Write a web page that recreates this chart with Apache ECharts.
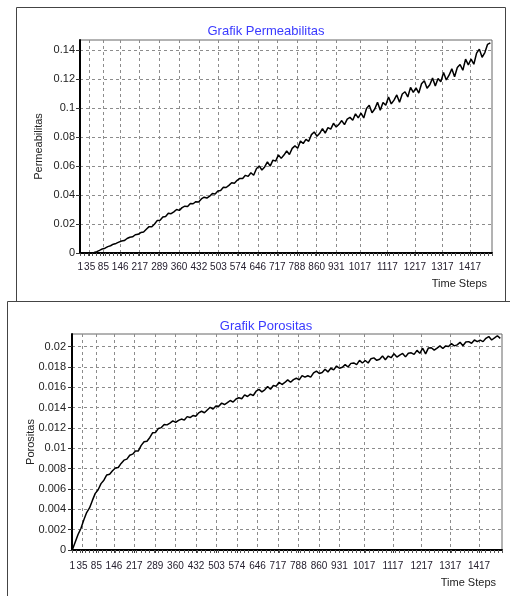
<!DOCTYPE html>
<html>
<head>
<meta charset="utf-8">
<title>Grafik Permeabilitas / Porositas</title>
<script src="https://cdn.jsdelivr.net/npm/echarts@6/dist/echarts.min.js"></script>
<style>
  html, body { margin: 0; padding: 0; background: #fff; }
  #chart { width: 510px; height: 596px; }
</style>
</head>
<body>
<div id="chart"></div>
<script>
// tick labels on the time axis (same for both charts)
var timeTicks = [1, 35, 85, 146, 217, 289, 360, 432, 503, 574, 646, 717, 788, 860, 931, 1017, 1117, 1217, 1317, 1417];
var permTicks = [0, 0.02, 0.04, 0.06, 0.08, 0.1, 0.12, 0.14];
var poroTicks = [0, 0.002, 0.004, 0.006, 0.008, 0.01, 0.012, 0.014, 0.016, 0.018, 0.02];

// sampled every 10 time steps, starting at step 1
var steps = [];
for (var s = 1; s <= 1491; s += 10) steps.push(s);

var permValues = [
    0, 0, 0, 0, 0,
    0.0004, 0.0009, 0.0018, 0.0028, 0.0033,
    0.0044, 0.0050, 0.0061, 0.0066, 0.0075,
    0.0083, 0.0086, 0.0100, 0.0109, 0.0112,
    0.0126, 0.0129, 0.0141, 0.0145, 0.0164,
    0.0182, 0.0181, 0.0200, 0.0225, 0.0226,
    0.0248, 0.0252, 0.0274, 0.0271, 0.0284,
    0.0300, 0.0294, 0.0313, 0.0323, 0.0321,
    0.0341, 0.0340, 0.0354, 0.0352, 0.0373,
    0.0385, 0.0379, 0.0392, 0.0410, 0.0407,
    0.0428, 0.0432, 0.0454, 0.0452, 0.0467,
    0.0485, 0.0481, 0.0502, 0.0515, 0.0514,
    0.0536, 0.0529, 0.0554, 0.0537, 0.0582,
    0.0601, 0.0573, 0.0594, 0.0629, 0.0600,
    0.0641, 0.0634, 0.0677, 0.0653, 0.0676,
    0.0704, 0.0680, 0.0722, 0.0739, 0.0723,
    0.0772, 0.0756, 0.0784, 0.0771, 0.0817,
    0.0835, 0.0806, 0.0826, 0.0858, 0.0827,
    0.0865, 0.0855, 0.0895, 0.0869, 0.0888,
    0.0914, 0.0886, 0.0924, 0.0936, 0.0916,
    0.0960, 0.0933, 0.0966, 0.0932, 0.0997,
    0.1019, 0.0968, 0.0994, 0.1041, 0.0986,
    0.1039, 0.1019, 0.1076, 0.1029, 0.1055,
    0.1091, 0.1041, 0.1097, 0.1113, 0.1077,
    0.1143, 0.1108, 0.1139, 0.1104, 0.1168,
    0.1189, 0.1137, 0.1161, 0.1207, 0.1152,
    0.1204, 0.1181, 0.1246, 0.1194, 0.1227,
    0.1271, 0.1216, 0.1280, 0.1301, 0.1261,
    0.1338, 0.1298, 0.1338, 0.1303, 0.1379,
    0.1407, 0.1351, 0.1383, 0.1440, 0.1450
];

var poroValues = [
    0, 0.00076, 0.00152, 0.00212, 0.00295,
    0.00368, 0.00414, 0.00488, 0.00557, 0.00593,
    0.00653, 0.00687, 0.00738, 0.00745, 0.00779,
    0.00806, 0.00812, 0.00852, 0.00884, 0.00894,
    0.00932, 0.00943, 0.00973, 0.00975, 0.01029,
    0.01065, 0.01070, 0.01107, 0.01154, 0.01157,
    0.01196, 0.01204, 0.01235, 0.01231, 0.01249,
    0.01271, 0.01255, 0.01275, 0.01288, 0.01278,
    0.01312, 0.01303, 0.01323, 0.01315, 0.01349,
    0.01365, 0.01350, 0.01377, 0.01404, 0.01387,
    0.01416, 0.01414, 0.01445, 0.01431, 0.01449,
    0.01471, 0.01455, 0.01485, 0.01498, 0.01488,
    0.01526, 0.01510, 0.01534, 0.01520, 0.01562,
    0.01580, 0.01556, 0.01576, 0.01608, 0.01582,
    0.01618, 0.01612, 0.01650, 0.01628, 0.01648,
    0.01674, 0.01650, 0.01676, 0.01690, 0.01674,
    0.01716, 0.01700, 0.01714, 0.01700, 0.01742,
    0.01760, 0.01736, 0.01746, 0.01778, 0.01752,
    0.01788, 0.01772, 0.01810, 0.01788, 0.01798,
    0.01824, 0.01800, 0.01836, 0.01840, 0.01824,
    0.01866, 0.01840, 0.01864, 0.01840, 0.01882,
    0.01890, 0.01866, 0.01876, 0.01908, 0.01872,
    0.01908, 0.01892, 0.01930, 0.01898, 0.01918,
    0.01934, 0.01900, 0.01936, 0.01940, 0.01924,
    0.01964, 0.01935, 0.01985, 0.01930, 0.01988,
    0.01990, 0.01966, 0.01986, 0.02008, 0.01982,
    0.02008, 0.02002, 0.02030, 0.02008, 0.02018,
    0.02044, 0.02010, 0.02046, 0.02050, 0.02034,
    0.02066, 0.02050, 0.02064, 0.02050, 0.02082,
    0.02100, 0.02066, 0.02086, 0.02108, 0.02082
];

var font = 'Liberation Sans, Arial, sans-serif';

function pairs(vals) {
    return steps.map(function (st, i) { return [st, vals[i]]; });
}

function timeAxis(grid, labelMargin) {
    return {
        type: 'value', gridIndex: grid, position: 'bottom',
        min: 0, max: 1497,
        axisLine: { lineStyle: { color: '#000', width: 2 } },
        axisTick: { show: true, length: 3, customValues: timeTicks, lineStyle: { color: '#333' } },
        axisLabel: {
            customValues: timeTicks, margin: labelMargin, fontSize: 10, fontFamily: font, color: '#262030',
            formatter: function (v) { return String(v); }
        },
        splitLine: { show: true, lineStyle: { color: '#8c8c8c', type: [3, 3], width: 1 } }
    };
}

// second axis only for the small minor ticks under the time axis
function minorAxis(grid) {
    return {
        type: 'value', gridIndex: grid, position: 'bottom',
        min: 0, max: 1497, interval: 15,
        axisLine: { show: false },
        axisTick: { show: true, length: 3, lineStyle: { color: '#555' } },
        axisLabel: { show: false },
        splitLine: { show: false }
    };
}

function valueAxis(grid, max, ticks, name, gap, labelMargin) {
    return {
        type: 'value', gridIndex: grid, min: 0, max: max,
        name: name, nameLocation: 'middle', nameGap: gap, nameMoveOverlap: false,
        nameTextStyle: { fontSize: 11, fontFamily: font, color: '#222' },
        axisLine: { show: true, lineStyle: { color: '#000', width: 2 } },
        axisTick: { show: true, length: 4, customValues: ticks, lineStyle: { color: '#333' } },
        axisLabel: { customValues: ticks, margin: labelMargin, fontSize: 11, fontFamily: font, color: '#222' },
        splitLine: { show: true, lineStyle: { color: '#8c8c8c', type: [3, 3], width: 1 } }
    };
}

var dom = document.getElementById('chart');
var chart = echarts.init(dom, null, { renderer: 'canvas', width: 510, height: 596 });

var option = {
    backgroundColor: '#fff',
    animation: false,
    title: [
        { text: 'Grafik Permeabilitas', left: 261, top: 20, textAlign: 'center',
          textStyle: { color: '#3a3aff', fontSize: 13, fontWeight: 'normal', fontFamily: font } },
        { text: 'Grafik Porositas', left: 261, top: 315, textAlign: 'center',
          textStyle: { color: '#3a3aff', fontSize: 13, fontWeight: 'normal', fontFamily: font } }
    ],
    grid: [
        { left: 80, top: 40, width: 412, height: 213, show: true, borderColor: '#666', borderWidth: 1, containLabel: false },
        { left: 72, top: 334, width: 430, height: 216, show: true, borderColor: '#666', borderWidth: 1, containLabel: false }
    ],
    xAxis: [timeAxis(0, 9), minorAxis(0), timeAxis(1, 11), minorAxis(1)],
    yAxis: [
        valueAxis(0, 0.147, permTicks, 'Permeabilitas', 36, 5),
        valueAxis(1, 0.02125, poroTicks, 'Porositas', 36, 6)
    ],
    series: [
        {
            name: 'Permeabilitas', type: 'line', xAxisIndex: 0, yAxisIndex: 0,
            data: pairs(permValues), showSymbol: false, smooth: false,
            lineStyle: { color: '#000', width: 1.5 }
        },
        {
            name: 'Porositas', type: 'line', xAxisIndex: 2, yAxisIndex: 1,
            data: pairs(poroValues), showSymbol: false, smooth: false,
            lineStyle: { color: '#000', width: 1.5 }
        }
    ],
    graphic: [
        { type: 'rect', shape: { x: 16.5, y: 7.5, width: 489, height: 294 },
          style: { fill: 'none', stroke: '#444', lineWidth: 1 }, silent: true },
        { type: 'line', shape: { x1: 7.5, y1: 301.5, x2: 510, y2: 301.5 },
          style: { stroke: '#444', lineWidth: 1 }, silent: true },
        { type: 'line', shape: { x1: 7.5, y1: 301.5, x2: 7.5, y2: 596 },
          style: { stroke: '#444', lineWidth: 1 }, silent: true },
        { type: 'text', right: 23, top: 278,
          style: { text: 'Time Steps', fontSize: 11, fontFamily: font, fill: '#222' } },
        { type: 'text', right: 14, top: 577,
          style: { text: 'Time Steps', fontSize: 11, fontFamily: font, fill: '#222' } }
    ]
};

chart.setOption(option);
</script>
</body>
</html>
